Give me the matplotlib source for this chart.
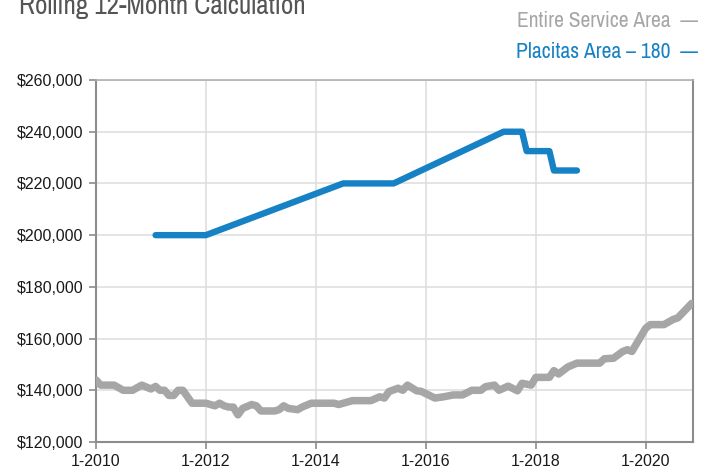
import matplotlib
matplotlib.use("Agg")
import matplotlib.pyplot as plt
import pandas as pd

# median sale price, rolling 12 months (thousands of dollars)
gray_dates = ["2010-01", "2010-02", "2010-05", "2010-07", "2010-09", "2010-11",
              "2011-01", "2011-02", "2011-03", "2011-04", "2011-05", "2011-06", "2011-07", "2011-08", "2011-10",
              "2012-01", "2012-03", "2012-04", "2012-05", "2012-06", "2012-07", "2012-08", "2012-09", "2012-11", "2012-12",
              "2013-01", "2013-04", "2013-05", "2013-06", "2013-07", "2013-09", "2013-10", "2013-12",
              "2014-05", "2014-06", "2014-08", "2014-09",
              "2015-01", "2015-03", "2015-04", "2015-05", "2015-07", "2015-08", "2015-09", "2015-11", "2015-12",
              "2016-03", "2016-05", "2016-07", "2016-09", "2016-11",
              "2017-01", "2017-02", "2017-04", "2017-05", "2017-07", "2017-09", "2017-10", "2017-12",
              "2018-01", "2018-04", "2018-05", "2018-06", "2018-08", "2018-10",
              "2019-03", "2019-04", "2019-06", "2019-08", "2019-09", "2019-10",
              "2020-01", "2020-02", "2020-05", "2020-07", "2020-08", "2020-10", "2020-11"]
gray_values = [144, 142, 142, 140, 140, 142,
               140.5, 141.5, 140, 140, 138, 138, 140, 140, 135,
               135, 134, 135, 134, 133.5, 133.5, 130.5, 133, 134.5, 134,
               132, 132, 132.5, 134, 133, 132.5, 133.5, 135,
               135, 134.5, 135.5, 136,
               136, 137.5, 137, 139.5, 140.8, 140, 142, 139.8, 139.6,
               137, 137.5, 138.2, 138.2, 140,
               140, 141.4, 142, 140, 141.6, 139.8, 142.7, 142,
               145, 145, 147.6, 146.3, 149, 150.5,
               150.5, 152.2, 152.4, 155, 155.7, 155,
               164, 165.4, 165.4, 167.4, 168, 171.7, 173.6]

blue_dates = ["2011-02", "2012-01", "2014-07", "2015-06", "2017-06",
              "2017-10", "2017-11", "2018-04", "2018-05", "2018-10"]
blue_values = [200, 200, 220, 220, 240, 240, 232.5, 232.5, 225, 225]

y_ticks = [120, 140, 160, 180, 200, 220, 240, 260]
x_ticks = ["2010-01", "2012-01", "2014-01", "2016-01", "2018-01", "2020-01"]
x_tick_labels = ["1-2010", "1-2012", "1-2014", "1-2016", "1-2018", "1-2020"]

GRAY = "#a6a6a6"
BLUE = "#1681c4"
SPINE = "#8c8c8c"
narrow = ["Archivo Narrow", "DejaVu Sans"]

plt.rcParams["font.family"] = ["Liberation Sans", "DejaVu Sans"]

fig = plt.figure(figsize=(7.04, 4.68), dpi=100)
ax = fig.add_axes([96 / 704, 1 - 442 / 468, (693 - 96) / 704, (442 - 80) / 468])

ax.plot(pd.to_datetime(gray_dates), [v * 1000 for v in gray_values],
        color=GRAY, lw=5.4, solid_capstyle="round", solid_joinstyle="round", zorder=3)
ax.plot(pd.to_datetime(blue_dates), [v * 1000 for v in blue_values],
        color=BLUE, lw=4.6, solid_capstyle="round", solid_joinstyle="round", zorder=4)

ax.set_xlim(pd.Timestamp("2010-01-01"), pd.Timestamp("2020-11-10"))
ax.set_ylim(120000, 260000)
ax.set_yticks([v * 1000 for v in y_ticks])
ax.set_yticklabels([f"${v * 1000:,}" for v in y_ticks])
ax.set_xticks(pd.to_datetime(x_ticks))
ax.set_xticklabels(x_tick_labels)

ax.grid(True, color="#dcdcdc", lw=1.1, zorder=0)
ax.set_axisbelow(True)
for s in ax.spines.values():
    s.set_color(SPINE)
    s.set_linewidth(1.5)
ax.spines["top"].set_color("#b0b0b0")
ax.spines["top"].set_linewidth(1.2)
ax.tick_params(axis="both", direction="out", length=5, width=1.2, color=SPINE,
               labelsize=11.5, labelcolor="#1a1a1a", pad=4)

fig.text(19 / 704, 1 - 14 / 468, "Rolling 12-Month Calculation", family=narrow,
         fontsize=19.5, color="#555555", ha="left", va="baseline")
fig.text(698 / 704, 1 - 21 / 468, "Entire Service Area  \u2014", family=narrow,
         fontsize=15.5, color=GRAY, ha="right", va="center")
fig.text(698 / 704, 1 - 52 / 468, "Placitas Area \u2013 180  \u2014", family=narrow,
         fontsize=15.5, color=BLUE, ha="right", va="center")

fig.savefig("out.png", dpi=100)
